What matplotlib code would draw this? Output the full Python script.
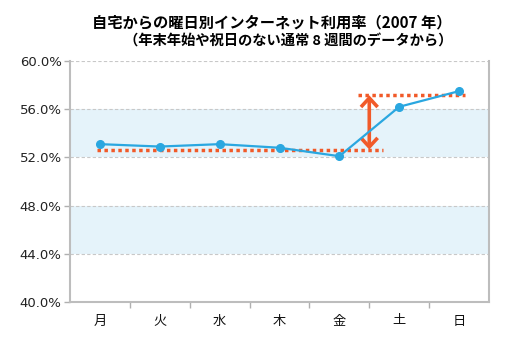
import matplotlib
matplotlib.use("Agg")
import matplotlib.pyplot as plt
from matplotlib.patches import FancyArrowPatch

plt.rcParams['font.family'] = ['Noto Sans CJK JP', 'DejaVu Sans']

days = ['月', '火', '水', '木', '金', '土', '日']
rates = [53.1, 52.9, 53.1, 52.8, 52.1, 56.2, 57.5]
weekday_level = 52.6
weekend_level = 57.2
yticks = [40, 44, 48, 52, 56, 60]
title = '自宅からの曜日別インターネット利用率（2007 年）'
subtitle = '（年末年始や祝日のない通常 8 週間のデータから）'

fig = plt.figure(figsize=(5.09, 3.49), dpi=100)
ax = fig.add_axes([70/509, 1-302/349, 419/509, 241/349])

x = list(range(len(days)))
ax.set_xlim(-0.5, 6.5)
ax.set_ylim(40, 60)

band = '#e5f3fa'
ax.axhspan(44, 48, color=band, zorder=0, lw=0)
ax.axhspan(52, 56, color=band, zorder=0, lw=0)
for y in yticks[1:]:
    ax.axhline(y, color='#c8c8c8', lw=0.8, ls=(0, (3, 2)), zorder=1)

red = '#f15a29'
ax.plot([-0.05, 4.73], [weekday_level]*2, color=red, lw=2.5, ls=(0, (1, 1)), zorder=2)
ax.plot([4.31, 6.1], [weekend_level]*2, color=red, lw=2.5, ls=(0, (1, 1)), zorder=2)
arr = FancyArrowPatch((4.5, weekday_level + 0.05), (4.5, weekend_level - 0.05),
                      arrowstyle='<->,head_length=6.5,head_width=6', color=red,
                      lw=2.6, mutation_scale=1, zorder=3, shrinkA=0, shrinkB=0,
                      joinstyle='miter', capstyle='butt')
ax.add_patch(arr)

ax.plot(x, rates, color='#2aa7e0', lw=1.6, marker='o', ms=5.5, zorder=4)

ax.set_yticks(yticks)
ax.set_yticklabels([f'{v:.1f}%' for v in yticks], fontsize=9.5, color='#222222',
                   family='DejaVu Sans')
ax.set_xticks(x)
ax.set_xticklabels(days, fontsize=9.5, color='#111111')
ax.set_xticks([i + 0.5 for i in range(6)], minor=True)
ax.tick_params(axis='x', which='major', length=0, pad=9)
ax.tick_params(axis='x', which='minor', length=4, color='#b0b0b0', width=1)
ax.tick_params(axis='y', length=4, color='#b0b0b0', width=1, pad=2)
for s in ['left', 'bottom', 'right']:
    ax.spines[s].set_color('#bdbdbd')
    ax.spines[s].set_linewidth(1.5)
ax.spines['top'].set_visible(False)

fig.text(272/509, 1-22/349, title, ha='center', va='center', fontsize=11, fontweight='bold')
fig.text(452/509, 1-42/349, subtitle, ha='right', va='center', fontsize=10.3, fontweight='bold')

fig.savefig('out.png', dpi=100)
